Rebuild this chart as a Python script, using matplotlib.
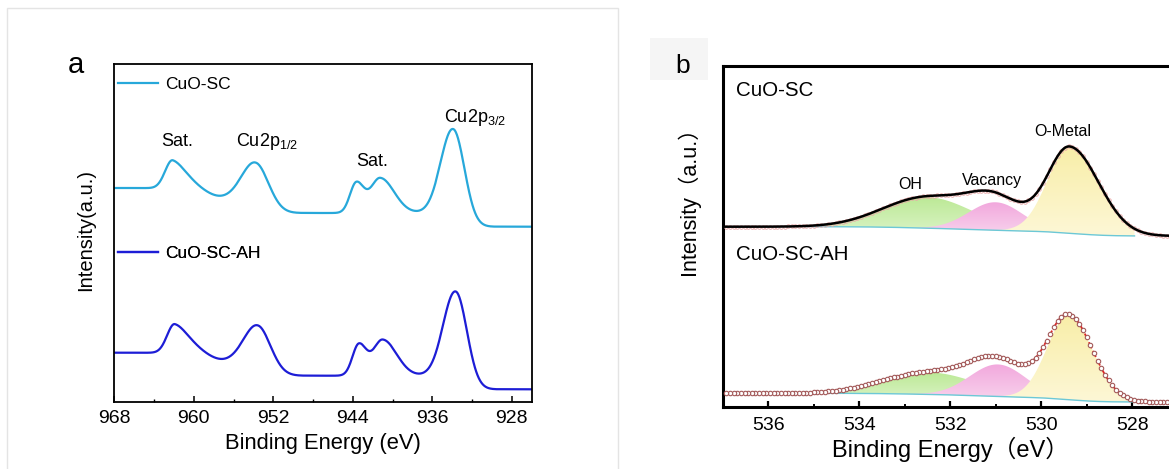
import numpy as np
import matplotlib.pyplot as plt
from matplotlib.colors import LinearSegmentedColormap
from matplotlib.patches import Rectangle
from matplotlib.ticker import MultipleLocator

plt.rcParams['font.family'] = ['Liberation Sans', 'Noto Sans CJK SC']
plt.rcParams['mathtext.fontset'] = 'custom'
plt.rcParams['mathtext.rm'] = 'Liberation Sans'
plt.rcParams['mathtext.it'] = 'Liberation Sans:italic'

# ---- Cu 2p spectra (panel a): peak centre / height / FWHM (high-BE side, low-BE side)
cu_sc_centers = [933.85, 941.25, 943.65, 953.65, 959.5, 962.1]
cu_sc_heights = [93.5, 35.0, 30.0, 42.0, 6.0, 32.0]
cu_sc_fwhm_hi = [2.9, 2.2, 1.5, 3.4, 3.0, 1.8]
cu_sc_fwhm_lo = [2.6, 3.3, 1.8, 3.0, 3.0, 3.6]
cu_sc_base = 175.0
cu_sc_step_pos = [934.3, 953.5, 962.0]
cu_sc_step_size = [13.7, 14.0, 11.0]

cu_ah_centers = [933.6, 941.0, 943.4, 953.45, 959.3, 961.9]
cu_ah_heights = [93.7, 36.0, 31.0, 42.0, 6.0, 32.0]
cu_ah_fwhm_hi = [2.9, 2.2, 1.5, 3.4, 3.0, 1.8]
cu_ah_fwhm_lo = [2.6, 3.3, 1.8, 3.0, 3.0, 3.6]
cu_ah_base = 12.4
cu_ah_step_pos = [934.05, 953.25, 961.75]
cu_ah_step_size = [13.6, 13.5, 9.5]

step_width = [1.0, 1.2, 1.2]

# ---- O 1s fits (panel b): OH, vacancy, O-metal
o1s_sc_centers = [532.5, 531.0, 529.37]
o1s_sc_heights = [31.0, 28.0, 86.0]
o1s_sc_fwhm_hi = [2.3, 1.4, 1.15]
o1s_sc_fwhm_lo = [2.3, 1.4, 1.5]
o1s_sc_bg = (180.6, 171.3)   # high-BE end, low-BE end

o1s_ah_centers = [532.45, 530.95, 529.4]
o1s_ah_heights = [22.0, 32.0, 84.0]
o1s_ah_fwhm_hi = [2.4, 1.45, 1.1]
o1s_ah_fwhm_lo = [2.4, 1.45, 1.25]
o1s_ah_bg = (14.0, 5.3)

fit_range = (527.95, 535.2)


def peak(E, c, h, w_hi, w_lo):
    w = np.where(E >= c, w_hi, w_lo)
    return h * np.exp(-4 * np.log(2) * (E - c) ** 2 / w ** 2)


def cu_spectrum(E, centers, heights, w_hi, w_lo, base, step_pos, step_size):
    y = np.full_like(E, base)
    for p, s, d in zip(step_pos, step_size, step_width):
        y += s * 0.5 * (1 + np.tanh((E - p) / d))
    for c, h, a, b in zip(centers, heights, w_hi, w_lo):
        y += peak(E, c, h, a, b)
    return y


def o1s_fit(E, centers, heights, w_hi, w_lo, bg):
    # E ascending; Shirley-type background from the cumulative peak area
    comps = [peak(E, c, h, a, b) for c, h, a, b in zip(centers, heights, w_hi, w_lo)]
    tot = np.sum(comps, axis=0)
    cum = np.cumsum(tot)
    shirley = bg[1] + (bg[0] - bg[1]) * cum / cum[-1]
    return comps, shirley, shirley + tot


def grad_fill(ax, x, y0, y1, c_top, c_bot, z):
    poly = ax.fill_between(x, y0, y1, facecolor='none', edgecolor='none')
    cmap = LinearSegmentedColormap.from_list('g', [c_bot, c_top])
    im = ax.imshow(np.linspace(0, 1, 256).reshape(-1, 1), cmap=cmap, aspect='auto',
                   origin='lower', extent=[x.min(), x.max(), y0.min(), y1.max()],
                   zorder=z, interpolation='bilinear')
    im.set_clip_path(poly.get_paths()[0], transform=ax.transData)


fig = plt.figure(figsize=(11.69, 4.69), dpi=100)

# light frame around panel a and grey patch behind the "b" tag
fig.patches.append(Rectangle((0.006, -0.02), 0.523, 1.003, transform=fig.transFigure,
                             facecolor='none', edgecolor='#e4e4e4', lw=1.0))
fig.patches.append(Rectangle((0.556, 0.829), 0.0496, 0.0896, transform=fig.transFigure,
                             facecolor='#f5f5f5', edgecolor='none'))

# ================= panel a =================
ax_a = fig.add_axes([0.0978, 0.1435, 0.357, 0.7194])
E_a = np.linspace(925, 969, 2000)
y_sc = cu_spectrum(E_a, cu_sc_centers, cu_sc_heights, cu_sc_fwhm_hi, cu_sc_fwhm_lo,
                   cu_sc_base, cu_sc_step_pos, cu_sc_step_size)
y_ah = cu_spectrum(E_a, cu_ah_centers, cu_ah_heights, cu_ah_fwhm_hi, cu_ah_fwhm_lo,
                   cu_ah_base, cu_ah_step_pos, cu_ah_step_size)
l1, = ax_a.plot(E_a, y_sc, color='#27a8da', lw=1.6)
l2, = ax_a.plot(E_a, y_ah, color='#1d1dd6', lw=1.6)

ax_a.set_xlim(968, 926)
ax_a.set_ylim(0, 337.4)
ax_a.set_yticks([])
ax_a.xaxis.set_major_locator(MultipleLocator(8))
ax_a.xaxis.set_minor_locator(MultipleLocator(4))
ax_a.tick_params(axis='x', which='major', direction='in', length=4.5, width=1.1,
                 labelsize=14, pad=6)
ax_a.tick_params(axis='x', which='minor', direction='in', length=2.5, width=1.0)
for s in ax_a.spines.values():
    s.set_linewidth(1.3)
ax_a.set_xlabel('Binding Energy (eV)', fontsize=15.8, labelpad=4)
ax_a.set_ylabel('Intensity(a.u.)', fontsize=14.5)
ax_a.yaxis.set_label_coords(-0.046, 0.51)

for h, lab, yy in [(l1, 'CuO-SC', 0.9416), (l2, 'CuO-SC-AH', 0.4407)]:
    leg = ax_a.legend(handles=[h], labels=[lab], loc='center left', bbox_to_anchor=(0.009, yy),
                      frameon=False, fontsize=12.5, handlelength=2.3, handletextpad=0.4,
                      borderpad=0, borderaxespad=0)
    ax_a.add_artist(leg)

ax_a.text(961.7, 259.7, 'Sat.', fontsize=13, ha='center', va='center')
ax_a.text(952.6, 259.7, r'Cu2p$_{\mathregular{1/2}}$', fontsize=13, ha='center', va='center')
ax_a.text(942.1, 239.7, 'Sat.', fontsize=13, ha='center', va='center')
ax_a.text(931.65, 283.7, r'Cu2p$_{\mathregular{3/2}}$', fontsize=13, ha='center', va='center')
fig.text(0.058, 0.8443, 'a', fontsize=21, ha='left', va='baseline')

# ================= panel b =================
ax_b = fig.add_axes([0.6182, 0.1316, 0.3893, 0.7283])
E_b = np.linspace(526.5, 537.5, 2200)
E_pts = np.arange(527.16, 536.98, 0.08)
fit = (E_b >= fit_range[0]) & (E_b <= fit_range[1])
fill_cols = [('#bce996', '#dcf4c8'), ('#f2a8dd', '#f8d4ed'), ('#f8eea8', '#fdf7d6')]

spectra = [
    (o1s_sc_centers, o1s_sc_heights, o1s_sc_fwhm_hi, o1s_sc_fwhm_lo, o1s_sc_bg, True),
    (o1s_ah_centers, o1s_ah_heights, o1s_ah_fwhm_hi, o1s_ah_fwhm_lo, o1s_ah_bg, False),
]
for cen, hgt, whi, wlo, bg, top in spectra:
    comps, shirley, env = o1s_fit(E_b, cen, hgt, whi, wlo, bg)
    _, _, env_pts = o1s_fit(E_pts, cen, hgt, whi, wlo, bg)
    for k, comp in enumerate(comps):
        grad_fill(ax_b, E_b[fit], shirley[fit], shirley[fit] + comp[fit],
                  fill_cols[k][0], fill_cols[k][1], 2 + k)
    ax_b.plot(E_b[fit], shirley[fit], color='#6cc8d6', lw=1.0, zorder=6)
    if top:
        ax_b.plot(E_pts, env_pts, 'o', ms=2.6, mfc='none', mec='#eaa8a8', mew=0.6, zorder=7)
        ax_b.plot(E_b, env, color='black', lw=1.8, zorder=8)
    else:
        ax_b.plot(E_b, env, color='#e02424', lw=1.3, ls='--', zorder=7)
        ax_b.plot(E_pts, env_pts, 'o', ms=3.2, mfc='white', mec='#a35a5a', mew=0.8, zorder=8)

ax_b.set_xlim(537, 527)
ax_b.set_ylim(0, 341.6)
ax_b.set_yticks([])
ax_b.xaxis.set_major_locator(MultipleLocator(2))
ax_b.xaxis.set_minor_locator(MultipleLocator(1))
ax_b.tick_params(axis='x', which='major', direction='in', length=4.5, width=1.6,
                 labelsize=14, pad=7)
ax_b.tick_params(axis='x', which='minor', direction='in', length=2.5, width=1.4)
for s in ax_b.spines.values():
    s.set_linewidth(2.2)
ax_b.set_xlabel('Binding Energy（eV）', fontsize=17, labelpad=2)
ax_b.set_ylabel('Intensity（a.u.）', fontsize=15.5)
ax_b.yaxis.set_label_coords(-0.05, 0.619)

ax_b.text(536.71, 317.3, 'CuO-SC', fontsize=14.8, ha='left', va='center')
ax_b.text(536.71, 152.8, 'CuO-SC-AH', fontsize=14.8, ha='left', va='center')
ax_b.text(532.89, 222.3, 'OH', fontsize=11.5, ha='center', va='center')
ax_b.text(531.08, 226.3, 'Vacancy', fontsize=11.5, ha='center', va='center')
ax_b.text(529.52, 275.6, 'O-Metal', fontsize=11.5, ha='center', va='center')
fig.text(0.5774, 0.845, 'b', fontsize=19, ha='left', va='baseline')

fig.savefig('out.png', dpi=100)
